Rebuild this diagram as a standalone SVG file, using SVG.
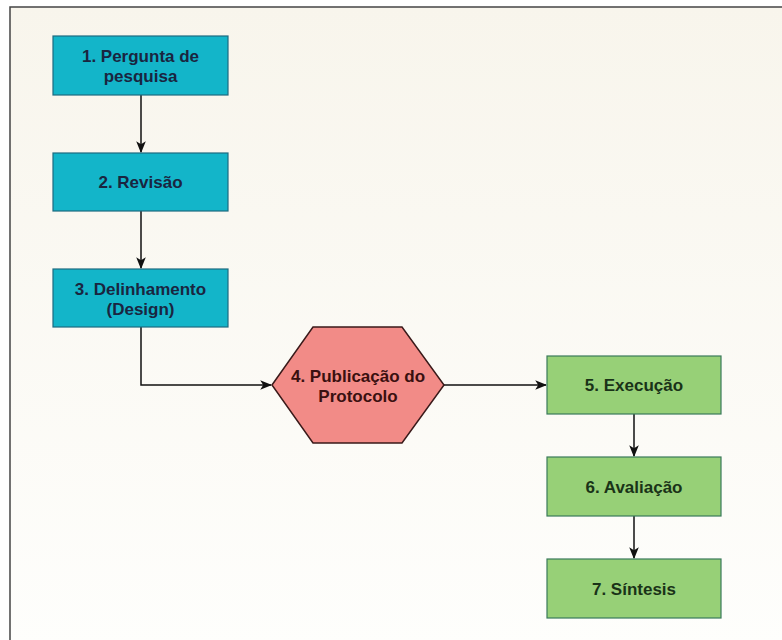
<svg xmlns="http://www.w3.org/2000/svg" width="782" height="640" viewBox="0 0 782 640">
<defs>
<linearGradient id="bg" x1="0" y1="0" x2="0" y2="1">
<stop offset="0" stop-color="#f8f5ec"/>
<stop offset="1" stop-color="#fefefc"/>
</linearGradient>
<marker id="arr" viewBox="0 0 10 10" refX="9" refY="5" markerWidth="12" markerHeight="12" orient="auto" markerUnits="userSpaceOnUse">
<path d="M0,1 L10,5 L0,9 L2.5,5 z" fill="#111"/>
</marker>
<style>
.blue{fill:#13b5c9;stroke:#1d6b80;stroke-width:1.2}
.green{fill:#97d077;stroke:#3a7a5a;stroke-width:1.2}
.red{fill:#f28b87;stroke:#3a1a1a;stroke-width:1.5}
.t{font-family:"Liberation Sans",Arial,sans-serif;font-weight:bold;font-size:17px;text-anchor:middle}
.tb{fill:#1a2540}
.tg{fill:#1a3318}
.tr{fill:#3a1010}
.c{fill:none;stroke:#111;stroke-width:1.5;marker-end:url(#arr)}
</style>
</defs>
<rect x="0" y="0" width="782" height="640" fill="#ffffff"/>
<rect x="10" y="7" width="780" height="640" fill="url(#bg)" stroke="#444" stroke-width="1.5"/>
<g id="connectors">
<path class="c" d="M141,95 L141,152"/>
<path class="c" d="M141,211 L141,268"/>
<path class="c" d="M141,327 L141,385 L271,385"/>
<path class="c" d="M444,385 L546,385"/>
<path class="c" d="M634,414 L634,456"/>
<path class="c" d="M634,516 L634,558"/>
</g>
<g id="n1">
<rect class="blue" x="53" y="36" width="175" height="59"/>
<text class="t tb" x="140.5" y="62">1. Pergunta de</text>
<text class="t tb" x="140.5" y="82">pesquisa</text>
</g>
<g id="n2">
<rect class="blue" x="53" y="153" width="175" height="58"/>
<text class="t tb" x="140.5" y="188">2. Revisão</text>
</g>
<g id="n3">
<rect class="blue" x="53" y="269" width="175" height="58"/>
<text class="t tb" x="140.5" y="295">3. Delinhamento</text>
<text class="t tb" x="140.5" y="315">(Design)</text>
</g>
<g id="n4">
<polygon class="red" points="272,385 313,327 402,327 444,385 402,443 313,443"/>
<text class="t tr" x="358" y="382">4. Publicação do</text>
<text class="t tr" x="358" y="402">Protocolo</text>
</g>
<g id="n5">
<rect class="green" x="547" y="356" width="174" height="58"/>
<text class="t tg" x="634" y="391">5. Execução</text>
</g>
<g id="n6">
<rect class="green" x="547" y="457" width="174" height="59"/>
<text class="t tg" x="634" y="493">6. Avaliação</text>
</g>
<g id="n7">
<rect class="green" x="547" y="559" width="174" height="59"/>
<text class="t tg" x="634" y="595">7. Síntesis</text>
</g>
</svg>
